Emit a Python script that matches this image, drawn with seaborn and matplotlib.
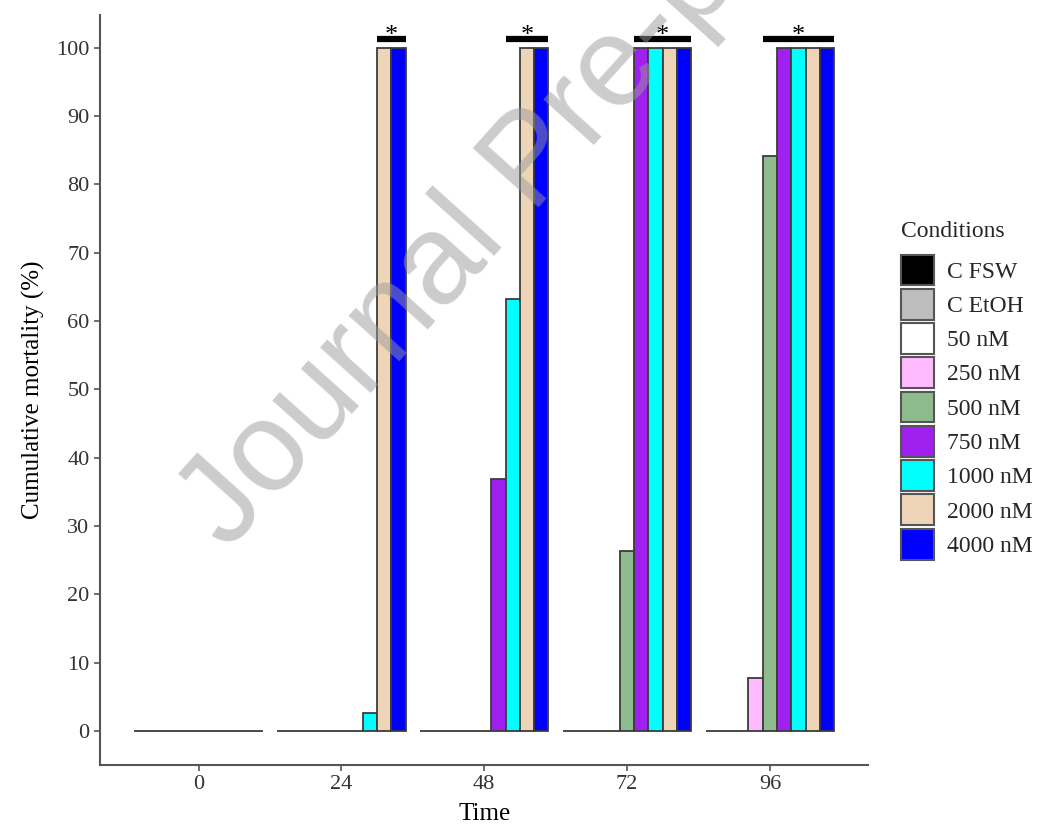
import matplotlib
matplotlib.use("Agg")
import matplotlib.pyplot as plt
import seaborn as sns
import pandas as pd

times = ["0", "24", "48", "72", "96"]
conditions = ["C FSW", "C EtOH", "50 nM", "250 nM", "500 nM",
              "750 nM", "1000 nM", "2000 nM", "4000 nM"]
colors = ["#000000", "#bebebe", "#ffffff", "#ffbbff", "#8fbc8f",
          "#a020f0", "#00ffff", "#eed5b7", "#0000ff"]

# cumulative mortality (%) per condition, one value per time point
c_fsw = [0, 0, 0, 0, 0]
c_etoh = [0, 0, 0, 0, 0]
nm_50 = [0, 0, 0, 0, 0]
nm_250 = [0, 0, 0, 0, 7.8]
nm_500 = [0, 0, 0, 26.3, 84.1]
nm_750 = [0, 0, 36.9, 100, 100]
nm_1000 = [0, 2.6, 63.2, 100, 100]
nm_2000 = [0, 100, 100, 100, 100]
nm_4000 = [0, 100, 100, 100, 100]

# significance brackets: time index, first condition covered (through 4000 nM)
sig_times = [1, 2, 3, 4]
sig_from = ["2000 nM", "1000 nM", "750 nM", "500 nM"]

series = [c_fsw, c_etoh, nm_50, nm_250, nm_500, nm_750, nm_1000, nm_2000, nm_4000]
rows = []
for cond, vals in zip(conditions, series):
    for t, v in zip(times, vals):
        rows.append({"Time": t, "Conditions": cond, "Mortality": v})
df = pd.DataFrame(rows)

sns.set_style("white")
plt.rcParams["font.family"] = ["Liberation Serif", "DejaVu Serif"]

fig = plt.figure(figsize=(10.6, 8.27), dpi=100)
ax = fig.add_axes([0.0943, 0.075, 0.725, 0.907])

sns.barplot(data=df, x="Time", y="Mortality", hue="Conditions",
            order=times, hue_order=conditions, palette=colors,
            saturation=1, width=0.9, errorbar=None,
            edgecolor="#3c3c3c", linewidth=1.3, ax=ax)

ax.set_xlim(-0.69, 4.69)
ax.set_ylim(-5, 104.8)
ax.set_yticks(range(0, 101, 10))
ax.set_xlabel("Time", fontsize=18, color="black", labelpad=6)
ax.set_ylabel("Cumulative mortality (%)", fontsize=18, color="black", labelpad=8)
ax.tick_params(axis="both", labelsize=16, labelcolor="#333333", color="#555555",
               length=4, width=1.2, direction="out", left=True, bottom=True)
for side in ["top", "right"]:
    ax.spines[side].set_visible(False)
for side in ["left", "bottom"]:
    ax.spines[side].set_color("#555555")
    ax.spines[side].set_linewidth(1.5)

# significance bars derived from the drawn bars
last = ax.containers[conditions.index("4000 nM")]
for ti, first in zip(sig_times, sig_from):
    b0 = ax.containers[conditions.index(first)][ti]
    b1 = last[ti]
    x0 = b0.get_x()
    x1 = b1.get_x() + b1.get_width()
    ax.plot([x0, x1], [101.2, 101.2], color="black", lw=4.5,
            solid_capstyle="butt", clip_on=False)
    ax.text((x0 + x1) / 2, 100.1, "*", ha="center", va="bottom",
            fontsize=19, color="black", zorder=5)

leg = ax.legend(title="Conditions", loc="upper left",
                bbox_to_anchor=(901 / 1060, 1 - 221 / 827),
                bbox_transform=fig.transFigure, frameon=False,
                fontsize=17, title_fontsize=17, handlelength=1.4,
                handleheight=1.64, labelspacing=0.14, handletextpad=0.55,
                borderpad=0, borderaxespad=0)
leg._legend_box.align = "left"
leg._legend_box.sep = 9
for h in leg.legend_handles:
    h.set_edgecolor("#555555")
    h.set_linewidth(1.5)

# watermark
fig.text(228 / 1060, 1 - 552 / 827, "Journal Pre-proof",
         fontsize=92, family="Liberation Sans", color="#9a9a9a", alpha=0.5,
         rotation=48, rotation_mode="anchor", ha="left", va="baseline")

fig.savefig("out.png", dpi=100)
